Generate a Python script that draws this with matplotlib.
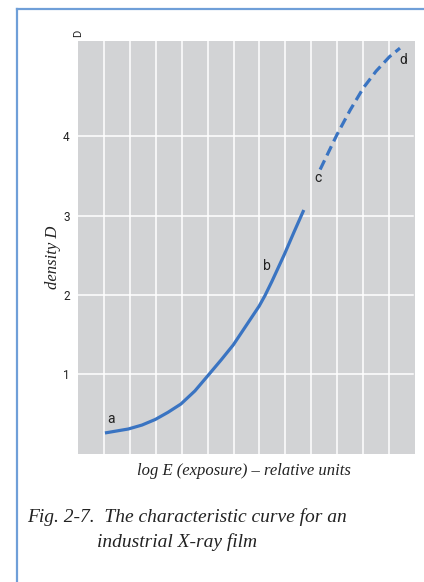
import numpy as np
import matplotlib.pyplot as plt
from matplotlib.lines import Line2D

# solid part of the curve (a -> b)
logE_solid = [1.04, 1.94, 2.47, 2.98, 3.47, 3.97, 4.51, 5.03, 5.52, 5.99, 6.48, 6.99, 7.21, 7.48, 7.96, 8.33, 8.71]
dens_solid = [0.26, 0.31, 0.36, 0.43, 0.52, 0.625, 0.79, 0.99, 1.18, 1.37, 1.61, 1.86, 1.99, 2.17, 2.51, 2.79, 3.07]

# dashed part (c -> d)
logE_dash = [9.34, 9.99, 10.5, 11.01, 11.5, 12.01, 12.42]
dens_dash = [3.58, 4.02, 4.33, 4.61, 4.82, 5.00, 5.11]

point_names = ["a", "b", "c", "d"]
point_x = [1.28, 7.28, 9.27, 12.55]
point_y = [0.44, 2.36, 3.47, 4.96]

yticks = [1, 2, 3, 4]

blue = "#3a74c2"
serif = ["Liberation Serif", "DejaVu Serif"]

fig = plt.figure(figsize=(4.24, 5.82), dpi=100)

# blue frame at left and top
fig.add_artist(Line2D([17/424, 17/424], [0, 1 - 9/582], color="#6f9fd8", lw=1.6))
fig.add_artist(Line2D([17/424, 1], [1 - 9/582, 1 - 9/582], color="#6f9fd8", lw=1.6))

ax = fig.add_axes([78/424, 1 - 453.6/582, 337/424, 412.6/582])
ax.set_facecolor("#d2d3d5")
ax.set_xlim(0, 13)
ax.set_ylim(0, 5.2)

for x in range(1, 13):
    ax.axvline(x, color="white", lw=1.1, zorder=1)
for y in yticks:
    ax.plot([0, 12.92], [y, y], color="white", lw=1.1, zorder=1)

ax.plot(logE_solid, dens_solid, color=blue, lw=2.3, solid_capstyle="butt", zorder=3)
ax.plot(logE_dash, dens_dash, color=blue, lw=2.3, dashes=(3.2, 1.7), zorder=3)

for n, x, y in zip(point_names, point_x, point_y):
    ax.text(x, y, n, fontsize=10, family="Roboto", color="#222222", ha="center", va="center")

ax.set_xticks([])
ax.set_yticks(yticks)
ax.set_yticklabels([str(t) for t in yticks], family="Roboto", fontsize=8.5, color="#222222")
ax.tick_params(axis="y", length=0, pad=6)
for s in ax.spines.values():
    s.set_visible(False)

fig.text(78/424, 1 - 33/582, "D", rotation=90, fontsize=8, family="Roboto",
         ha="center", va="center", color="#222222")

fig.text(53/424, 1 - 257/582, "density D", rotation=90, style="italic", family=serif,
         fontsize=12, ha="center", va="center", color="#222222")
fig.text(244/424, 1 - 471/582, "log E (exposure) – relative units", style="italic",
         family=serif, fontsize=12, ha="center", va="center", color="#222222")

fig.text(27/424, 1 - 517/582, "Fig. 2-7.  The characteristic curve for an", style="italic",
         family=serif, fontsize=14, ha="left", va="center", color="#222222")
fig.text(97/424, 1 - 542/582, "industrial X-ray film", style="italic",
         family=serif, fontsize=14, ha="left", va="center", color="#222222")

fig.savefig("out.png", dpi=100)
